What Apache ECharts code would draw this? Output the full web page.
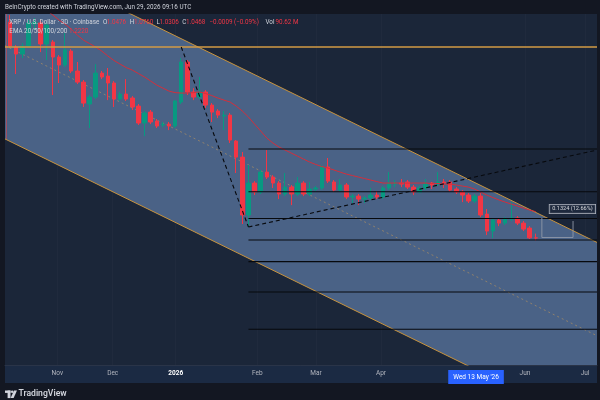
<!DOCTYPE html>
<html>
<head>
<meta charset="utf-8">
<title>XRP / U.S. Dollar · 3D</title>
<style>
  html, body { margin: 0; padding: 0; background: #131722; }
  #chart { width: 600px; height: 400px; }
</style>
<script src="https://cdn.jsdelivr.net/npm/echarts@6/dist/echarts.min.js"></script>
</head>
<body>
<div id="chart"></div>
<script>
// ---- data: one row per 3D bar, x = bar number, [open, close, low, high] ----
const candles = [
  [2.486, 2.326, 2.313, 2.533], [2.320, 2.273, 2.140, 2.333], [2.273, 2.326, 2.246, 2.346],
  [2.326, 2.480, 2.313, 2.500], [2.473, 2.486, 2.433, 2.513], [2.480, 2.340, 2.286, 2.500],
  [2.340, 2.466, 2.233, 2.486], [2.353, 2.253, 2.000, 2.366], [2.253, 2.200, 2.080, 2.266],
  [2.200, 2.300, 2.186, 2.413], [2.293, 2.160, 2.146, 2.306], [2.160, 2.086, 2.073, 2.220],
  [2.086, 1.946, 1.920, 2.100], [1.940, 1.986, 1.780, 2.000], [1.986, 2.146, 1.973, 2.206],
  [2.146, 2.120, 2.106, 2.160], [2.126, 2.080, 1.966, 2.180], [2.080, 1.973, 1.920, 2.093],
  [1.973, 2.006, 1.960, 2.020], [2.006, 1.973, 1.960, 2.106], [1.980, 1.920, 1.900, 1.993],
  [1.926, 1.813, 1.800, 1.940], [1.813, 1.880, 1.726, 1.893], [1.886, 1.820, 1.806, 1.900],
  [1.826, 1.793, 1.780, 1.840], [1.800, 1.806, 1.786, 1.820], [1.806, 1.793, 1.766, 1.820],
  [1.793, 1.960, 1.780, 1.966], [1.953, 2.220, 1.940, 2.246], [2.220, 2.020, 2.000, 2.233],
  [2.020, 1.986, 1.966, 2.046], [1.986, 2.020, 1.973, 2.120], [2.020, 1.933, 1.913, 2.033],
  [1.933, 1.886, 1.820, 1.946], [1.893, 1.866, 1.846, 1.906], [1.860, 1.866, 1.766, 1.893],
  [1.866, 1.700, 1.680, 1.880], [1.693, 1.586, 1.480, 1.700], [1.586, 1.200, 1.140, 1.620],
  [1.200, 1.413, 1.120, 1.533], [1.413, 1.353, 1.333, 1.426], [1.353, 1.486, 1.340, 1.500],
  [1.486, 1.453, 1.440, 1.633], [1.453, 1.413, 1.380, 1.466], [1.413, 1.340, 1.306, 1.426],
  [1.340, 1.386, 1.326, 1.480], [1.386, 1.340, 1.266, 1.400], [1.340, 1.413, 1.326, 1.453],
  [1.413, 1.340, 1.326, 1.426], [1.340, 1.373, 1.326, 1.420], [1.373, 1.380, 1.360, 1.393],
  [1.380, 1.520, 1.366, 1.533], [1.520, 1.426, 1.413, 1.580], [1.420, 1.366, 1.353, 1.433],
  [1.366, 1.400, 1.353, 1.440], [1.400, 1.320, 1.306, 1.413], [1.320, 1.326, 1.280, 1.340],
  [1.326, 1.306, 1.266, 1.340], [1.306, 1.313, 1.280, 1.326], [1.313, 1.333, 1.300, 1.380],
  [1.333, 1.320, 1.306, 1.360], [1.320, 1.380, 1.306, 1.393], [1.380, 1.413, 1.366, 1.486],
  [1.406, 1.413, 1.386, 1.433], [1.413, 1.406, 1.386, 1.440], [1.420, 1.386, 1.373, 1.433],
  [1.386, 1.353, 1.333, 1.400], [1.353, 1.380, 1.346, 1.393], [1.380, 1.406, 1.366, 1.440],
  [1.413, 1.400, 1.373, 1.420], [1.406, 1.420, 1.393, 1.486], [1.420, 1.413, 1.380, 1.440],
  [1.420, 1.366, 1.353, 1.433], [1.373, 1.353, 1.340, 1.386], [1.353, 1.333, 1.286, 1.366],
  [1.333, 1.293, 1.280, 1.346], [1.293, 1.326, 1.280, 1.340], [1.326, 1.200, 1.186, 1.346],
  [1.206, 1.093, 1.066, 1.240], [1.093, 1.166, 1.046, 1.180], [1.166, 1.146, 1.126, 1.180],
  [1.146, 1.173, 1.133, 1.186], [1.173, 1.180, 1.160, 1.286], [1.180, 1.146, 1.133, 1.193],
  [1.146, 1.106, 1.093, 1.160], [1.113, 1.0477, 1.040, 1.126], [1.0476, 1.0468, 1.0306, 1.0760]
];

// EMA line (only the 1.2220 one is drawn)
const ema = [
  2.733, 2.700, 2.673, 2.647, 2.620, 2.593, 2.563, 2.533, 2.500, 2.473,
  2.440, 2.400, 2.366, 2.343, 2.320, 2.293, 2.260, 2.230, 2.206, 2.183,
  2.166, 2.143, 2.120, 2.093, 2.066, 2.046, 2.026, 2.016, 2.013, 2.013,
  2.016, 2.020, 2.010, 1.996, 1.980, 1.966, 1.953, 1.926, 1.893, 1.853,
  1.806, 1.760, 1.713, 1.680, 1.653, 1.633, 1.613, 1.593, 1.573, 1.553,
  1.537, 1.523, 1.513, 1.500, 1.486, 1.473, 1.463, 1.453, 1.443, 1.433,
  1.423, 1.413, 1.413, 1.413, 1.413, 1.413, 1.413, 1.413, 1.413, 1.410,
  1.410, 1.406, 1.406, 1.400, 1.393, 1.386, 1.373, 1.353, 1.333, 1.316,
  1.300, 1.286, 1.273, 1.260, 1.246, 1.233, 1.222
];

// time axis labels, placed in bar units
const tickPos = [7.73, 16.79, 27.1, 40.45, 50.05, 60.68, 84.24, 94.06];
const tickText = ['Nov', 'Dec', '2026', 'Feb', 'Mar', 'Apr', 'Jun', 'Jul'];
const crossPos = 76.23;
const crossText = "Wed 13 May '26";

// visible range (bar units / price)
const xMin = -0.83, xMax = 96.02;
const yMin = 0.2, yMax = 2.54;

// drawings, anchors as [bar, price]
const channelUpper = [[xMin, 2.951], [xMax, 1.017]];
const channelLower = [[xMin, 1.707], [xMax, -0.227]];
const channelMid = [[xMin, 2.329], [xMax, 0.395]];
const resistance = 2.32;
const fibStart = 39;
const fibLevels = [1.640, 1.355, 1.177, 1.033, 0.889, 0.687, 0.438];
const swingDown = [[28, 2.32], [39, 1.12]];
const swingUp = [[39, 1.12], [xMax, 1.633]];
const rangeBox = [[87, 1.180], [87, 1.05], [92.1, 1.05], [92.1, 1.16]];
const rangeLabel = { at: [92.0, 1.24], text: '0.1324 (12.66%)' };
const volText = '90.62 M';

// ---- chart ----
const FONT = 'Roboto, "Noto Sans", sans-serif';
const last = candles[candles.length - 1];
const prevClose = candles[candles.length - 2][1];
const chg = last[1] - prevClose;
const fmt = v => v.toFixed(4);
const neg = s => s.replace(/-/g, '\u2212');

// legend pieces: [left px, text, colour]
const WHITE = '#d1d4dc', RED = '#f23645';
const legendRow1 = [
  [9.3, 'XRP / U.S. Dollar \u00b7 3D \u00b7 Coinbase', WHITE],
  [103, 'O', WHITE], [106.7, fmt(last[0]), RED],
  [129.8, 'H', WHITE], [134, fmt(last[3]), RED],
  [156.5, 'L', WHITE], [159.5, fmt(last[2]), RED],
  [182.3, 'C', WHITE], [186, fmt(last[1]), RED],
  [209.5, neg(chg.toFixed(4)) + ' (' + neg((chg / prevClose * 100).toFixed(2)) + '%)', RED],
  [265.5, 'Vol', WHITE], [275.5, volText, RED]
];
const legendRow2 = [
  [9.3, 'EMA 20/50/100/200', WHITE],
  [69, ema[ema.length - 1].toFixed(4), RED]
];

function lineSeries(points, color, width, type, z) {
  return {
    type: 'line', xAxisIndex: 0, yAxisIndex: 0, data: points,
    symbol: 'none', silent: true, animation: false, z: z,
    lineStyle: { color: color, width: width, type: type }
  };
}

function textRow(row, y) {
  return row.map(p => ({
    type: 'text', x: p[0], y: y, z: 100,
    style: { text: p[1], fill: p[2], font: '6.3px ' + FONT, verticalAlign: 'middle' }
  }));
}

const option = {
  backgroundColor: '#131722',
  animation: false,
  grid: {
    left: 5, right: 3, top: 14, bottom: 35,
    show: true, backgroundColor: '#1b2639', borderWidth: 0
  },
  xAxis: {
    type: 'value', min: xMin, max: xMax,
    axisLine: { show: true, lineStyle: { color: '#2a3448' } },
    axisTick: { show: false, customValues: tickPos },
    splitLine: { show: true, lineStyle: { color: '#202a3d', width: 1 } },
    axisLabel: {
      customValues: tickPos.concat([crossPos]),
      margin: 5,
      color: '#b2b5be',
      fontSize: 6.5,
      fontFamily: FONT,
      formatter: function (v) {
        if (Math.abs(v - crossPos) < 0.01) return '{hl|' + crossText + '}';
        const i = tickPos.findIndex(p => Math.abs(p - v) < 0.01);
        if (i < 0) return '';
        return tickText[i] === '2026' ? '{yr|2026}' : tickText[i];
      },
      rich: {
        yr: { color: '#ffffff', fontWeight: 'bold', fontSize: 6.5, fontFamily: FONT },
        hl: {
          color: '#ffffff', backgroundColor: '#2962ff', fontSize: 6.5, fontFamily: FONT,
          padding: [4, 5, 3, 5]
        }
      }
    }
  },
  yAxis: { type: 'value', min: yMin, max: yMax, show: false },
  series: [
    // channel band
    {
      type: 'custom', clip: true, silent: true, z: 1,
      data: [[50, 1.5]],
      renderItem: function (params, api) {
        const pts = [channelUpper[0], channelUpper[1], channelLower[1], channelLower[0]]
          .map(p => api.coord(p));
        return { type: 'polygon', shape: { points: pts }, style: { fill: '#4a6286' } };
      }
    },
    lineSeries(channelUpper, '#c8933e', 1, 'solid', 2),
    lineSeries(channelLower, '#c8933e', 1, 'solid', 2),
    lineSeries(channelMid, 'rgba(190,150,90,0.75)', 0.8, [2, 3], 2),
    lineSeries([[xMin + 0.25, 2.54], [xMin + 0.25, channelLower[0][1]]], 'rgba(210,70,80,0.8)', 0.8, 'solid', 2),
    {
      type: 'candlestick', z: 3, silent: true, animation: false,
      barWidth: 4,
      data: candles.map((d, i) => [i].concat(d)),
      itemStyle: {
        color: '#089981', color0: '#f23645',
        borderColor: '#089981', borderColor0: '#f23645', borderWidth: 1
      }
    },
    lineSeries(ema.map((v, i) => [i, v]), '#d32f3c', 1, 'solid', 4),
    lineSeries([[xMin, resistance], [xMax, resistance]], '#d39b45', 1.4, 'solid', 5)
  ].concat(
    fibLevels.map(l => lineSeries([[fibStart, l], [xMax, l]], '#07090d', 1.1, 'solid', 5)),
    [
      lineSeries(swingDown, '#07090d', 1.1, [4, 3], 5),
      lineSeries(swingUp, '#07090d', 1.1, [4, 3], 5),
      lineSeries(rangeBox, '#8e97a8', 0.9, 'solid', 6),
      {
        type: 'scatter', z: 7, silent: true, symbolSize: 0,
        data: [rangeLabel.at],
        label: {
          show: true, position: 'inside', formatter: rangeLabel.text,
          color: '#ffffff', fontSize: 5.6, fontFamily: FONT,
          backgroundColor: '#1f2b3e', borderColor: '#d1d4dc', borderWidth: 0.8,
          padding: [1.5, 2.5, 1, 2.5]
        }
      }
    ]
  ),
  graphic: [
    { type: 'rect', z: -10, shape: { x: 5, y: 365, width: 592, height: 18 }, style: { fill: '#1b2a43' } },
    {
      type: 'text', x: 5, y: 7.5,
      style: { text: 'BeInCrypto created with TradingView.com, Jun 29, 2026 09:16 UTC',
        fill: '#d1d4dc', font: '6.3px ' + FONT, verticalAlign: 'middle' }
    },
    // TradingView mark in the footer
    { type: 'rect', shape: { x: 5, y: 390.5, width: 5.5, height: 2.4 }, style: { fill: '#d1d4dc' } },
    { type: 'rect', shape: { x: 7.6, y: 390.5, width: 2.9, height: 7.6 }, style: { fill: '#d1d4dc' } },
    { type: 'circle', shape: { cx: 12.2, cy: 391.7, r: 1.25 }, style: { fill: '#d1d4dc' } },
    { type: 'polygon', shape: { points: [[14, 390.5], [17, 390.5], [13.6, 398.1], [10.6, 398.1]] }, style: { fill: '#d1d4dc' } },
    {
      type: 'text', x: 18.5, y: 394.3,
      style: { text: 'TradingView', fill: '#d1d4dc', font: '600 8.6px ' + FONT, verticalAlign: 'middle' }
    }
  ].concat(textRow(legendRow1, 22.3), textRow(legendRow2, 31.3))
};

const chart = echarts.init(document.getElementById('chart'));
chart.setOption(option);
</script>
</body>
</html>
